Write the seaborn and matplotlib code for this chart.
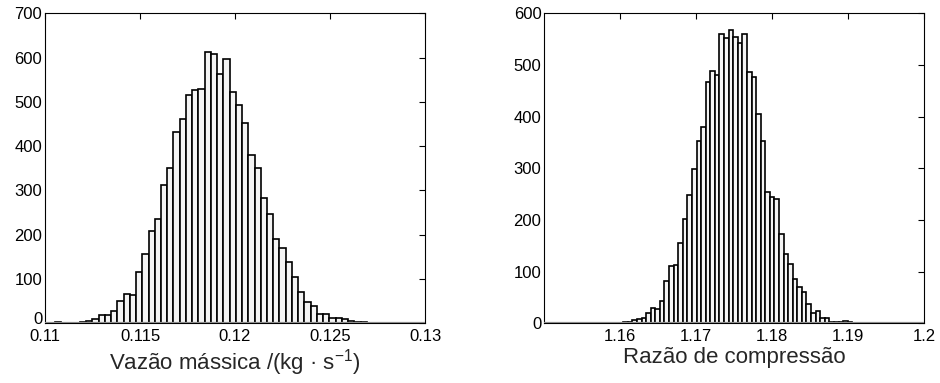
import numpy as np
import pandas as pd
import matplotlib
matplotlib.use("Agg")
import matplotlib.pyplot as plt
import matplotlib.transforms as mtransforms
import seaborn as sns

# ---- data (counts per bin, 50 bins each) ----
mass_flow_counts = [4, 0, 0, 0, 2, 5, 10, 19, 19, 27,
                    50, 66, 65, 115, 157, 209, 236, 312, 350, 431,
                    461, 515, 527, 528, 613, 609, 562, 597, 522, 494,
                    453, 381, 350, 282, 247, 191, 170, 139, 104, 71,
                    47, 40, 21, 21, 13, 13, 9, 5, 3, 3]
mass_flow_range = (0.110526, 0.126932)

pressure_ratio_counts = [2, 3, 6, 8, 11, 19, 29, 27, 43, 81,
                         110, 112, 155, 202, 248, 298, 353, 379, 467, 488,
                         481, 560, 552, 568, 555, 542, 559, 486, 476, 405,
                         353, 255, 245, 240, 172, 135, 115, 86, 71, 60,
                         37, 19, 23, 10, 10, 3, 3, 3, 5, 3]
pressure_ratio_range = (1.160395, 1.190526)

left_xticks = [0.11, 0.115, 0.12, 0.125, 0.13]
left_xticklabels = ["0.11", "0.115", "0.12", "0.125", "0.13"]
left_yticks = [0, 100, 200, 300, 400, 500, 600, 700]
right_xticks = [1.16, 1.17, 1.18, 1.19, 1.2]
right_xticklabels = ["1.16", "1.17", "1.18", "1.19", "1.2"]
right_yticks = [0, 100, 200, 300, 400, 500, 600]

left_xlabel = "Vazão mássica /(kg · s$^{-1}$)"
right_xlabel = "Razão de compressão"

sns.set_style("white")
plt.rcParams["font.family"] = ["Liberation Sans", "DejaVu Sans"]
plt.rcParams["mathtext.default"] = "regular"

fig = plt.figure(figsize=(9.4, 3.83), dpi=100)
ax1 = fig.add_axes([0.0479, 0.1559, 0.4043, 0.8094])
ax2 = fig.add_axes([0.5790, 0.1559, 0.4043, 0.8094])


def draw(ax, counts, rng, xlim, ylim, xticks, xticklabels, yticks, xlabel):
    nb = len(counts)
    width = (rng[1] - rng[0]) / nb
    centers = rng[0] + width * (np.arange(nb) + 0.5)
    df = pd.DataFrame({"x": centers, "n": np.asarray(counts, dtype=float)})
    sns.histplot(data=df, x="x", weights="n", bins=nb, binrange=rng, ax=ax,
                 color="#f4f4f4", edgecolor="black", linewidth=1.2,
                 alpha=1.0)
    ax.axhline(0, color="#8c8c8c", lw=1.6, zorder=5)
    ax.set_xlim(*xlim)
    ax.set_ylim(*ylim)
    ax.set_xticks(xticks)
    ax.set_xticklabels(xticklabels)
    ax.set_yticks(yticks)
    ax.tick_params(direction="in", length=4, width=0.8, top=True, right=True,
                   labelsize=12, colors="black")
    ax.tick_params(axis="x", pad=4)
    ax.tick_params(axis="y", pad=2)
    for s in ax.spines.values():
        s.set_color("black")
        s.set_linewidth(0.8)
        s.set_visible(True)
    ax.set_ylabel("")
    ax.set_xlabel(xlabel, fontsize=16, labelpad=2)


draw(ax1, mass_flow_counts, mass_flow_range, (0.11, 0.13), (0, 700),
     left_xticks, left_xticklabels, left_yticks, left_xlabel)
draw(ax2, pressure_ratio_counts, pressure_ratio_range, (1.15, 1.2), (0, 600),
     right_xticks, right_xticklabels, right_yticks, right_xlabel)

# lift the "0" y tick label of the left panel slightly, as in the reference
zero_lbl = ax1.get_yticklabels()[0]
zero_lbl.set_transform(zero_lbl.get_transform() +
                       mtransforms.ScaledTranslation(0, 4 / 72, fig.dpi_scale_trans))

fig.savefig("out.png", dpi=100)
